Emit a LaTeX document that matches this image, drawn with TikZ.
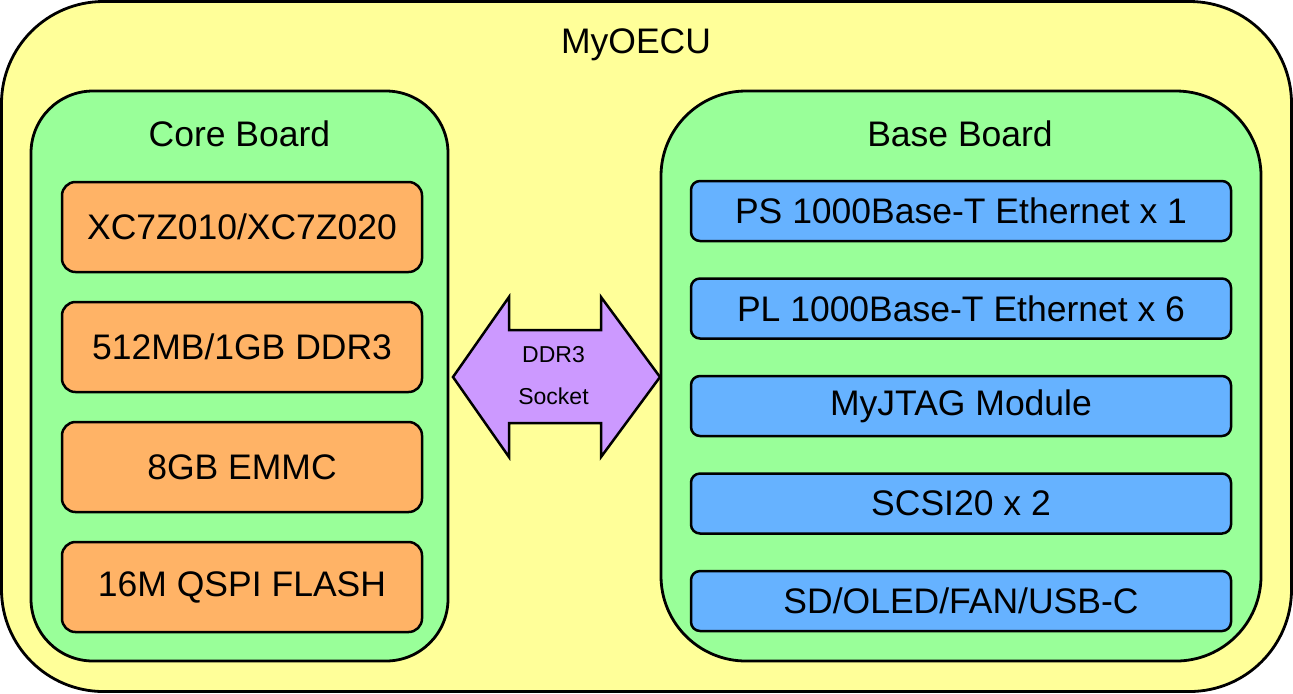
\documentclass[tikz,border=0pt]{standalone}
\usepackage{fontspec}
\setmainfont{Liberation Sans}
\usepackage{tikz}
\usetikzlibrary{positioning}

\definecolor{ecuyellow}{HTML}{FFFF99}
\definecolor{boardgreen}{HTML}{99FF99}
\definecolor{coreorange}{HTML}{FFB366}
\definecolor{baseblue}{HTML}{66B2FF}
\definecolor{sockpurple}{HTML}{CC99FF}

\tikzset{
	frame/.style={draw,line width=1.4pt,inner sep=0pt},
	title/.style={font=\fontsize{17.75}{21}\selectfont},
	part/.style={frame,line width=1.25pt,font=\fontsize{17.75}{21}\selectfont},
	corepart/.style={part,fill=coreorange,rounded corners=6.75pt,minimum width=180pt,minimum height=45pt},
	basepart/.style={part,fill=baseblue,rounded corners=4.5pt,minimum width=270pt,minimum height=30pt},
	sockarrow/.style={draw,line width=1.25pt,fill=sockpurple,line join=miter},
}

\begin{document}
\begin{tikzpicture}[x=0.5pt,y=-0.5pt]
				\useasboundingbox (0,0) rectangle (1293,693);
				\node[frame,fill=ecuyellow,rounded corners=51pt,minimum width=645pt,minimum height=345pt](ecu) at (646.5,346.5) {};
				\node[title](ecutitle) at (636,45) {MyOECU};

				% core board
				\node[frame,fill=boardgreen,rounded corners=31pt,minimum width=208.5pt,minimum height=285pt](core) at (239.5,376) {};
				\node[title](coretitle) at (239.5,134) {Core Board};
				\node[corepart](soc) at (242,227) {XC7Z010/XC7Z020};
				\node[corepart,below=13.75pt of soc](ddr) {512MB/1GB DDR3};
				\node[corepart,below=13.75pt of ddr](emmc) {8GB EMMC};
				\node[corepart,below=13.75pt of emmc](qspi) {16M QSPI FLASH};

				% base board
				\node[frame,fill=boardgreen,rounded corners=42.5pt,minimum width=300pt,minimum height=285pt](base) at (961,376) {};
				\node[title](basetitle) at (960,134) {Base Board};
				\node[basepart](psnet) at (961,211) {PS 1000Base-T Ethernet x 1};
				\node[basepart,below=17.5pt of psnet](plnet) {PL 1000Base-T Ethernet x 6};
				\node[basepart,below=17.5pt of plnet](jtag) {MyJTAG Module};
				\node[basepart,below=17.5pt of jtag](scsi) {SCSI20 x 2};
				\node[basepart,below=17.5pt of scsi](misc) {SD/OLED/FAN/USB-C};

				% socket
				\draw[sockarrow] (453,377) -- (509,297) -- (509,330) -- (601,330) -- (601,297) -- (660,377)
					-- (601,457) -- (601,423) -- (509,423) -- (509,457) -- cycle;
				\node[align=center,font=\fontsize{11.5}{21}\selectfont](sock) at (553.5,376) {DDR3\\Socket};
			\end{tikzpicture}
\end{document}
